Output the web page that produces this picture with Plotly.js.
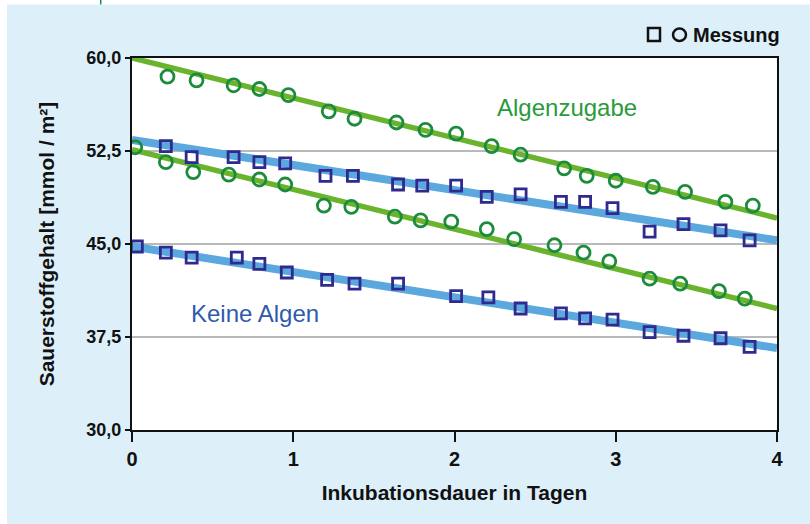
<!DOCTYPE html>
<html>
<head>
<meta charset="utf-8">
<script src="https://cdn.plot.ly/plotly-3.0.1.min.js"></script>
<style>html,body{margin:0;padding:0;background:#fff;}#chart{width:810px;height:524px;}</style>
</head>
<body>
<div id="chart"></div>
<script>
// Measurements: with algae (circles)
const algenObenX = [0.22,0.40,0.63,0.79,0.97,1.22,1.38,1.64,1.82,2.01,2.23,2.41,2.68,2.82,3.00,3.23,3.43,3.68,3.85];
const algenObenY = [58.5,58.2,57.8,57.5,57.0,55.7,55.1,54.8,54.2,53.9,52.9,52.2,51.1,50.5,50.1,49.6,49.2,48.4,48.1];
const algenUntenX = [0.02,0.21,0.38,0.60,0.79,0.95,1.19,1.36,1.63,1.79,1.98,2.20,2.37,2.62,2.80,2.96,3.21,3.40,3.64,3.80];
const algenUntenY = [52.8,51.6,50.8,50.6,50.2,49.8,48.1,48.0,47.2,46.9,46.8,46.2,45.4,44.9,44.3,43.6,42.2,41.8,41.2,40.6];
// Measurements: without algae (squares)
const keineObenX = [0.21,0.37,0.63,0.79,0.95,1.20,1.37,1.65,1.80,2.01,2.20,2.41,2.66,2.81,2.98,3.21,3.42,3.65,3.83];
const keineObenY = [52.9,52.0,52.0,51.6,51.5,50.5,50.5,49.8,49.7,49.7,48.8,49.0,48.4,48.4,47.9,46.0,46.6,46.1,45.3];
const keineUntenX = [0.03,0.21,0.37,0.65,0.79,0.96,1.21,1.38,1.65,2.01,2.21,2.41,2.66,2.81,2.98,3.21,3.42,3.65,3.83];
const keineUntenY = [44.8,44.3,43.9,43.9,43.4,42.7,42.1,41.8,41.8,40.8,40.7,39.8,39.4,39.0,38.9,37.9,37.6,37.4,36.7];
// Regression lines (endpoints)
const fitX = [0, 4];
const fitAlgenOben = [60.0, 47.1];
const fitAlgenUnten = [52.6, 39.8];
const fitKeineOben = [53.4, 45.3];
const fitKeineUnten = [44.8, 36.6];
// Axis ticks
const yTickVals = [30, 37.5, 45, 52.5, 60];
const yTickText = ["30,0", "37,5", "45,0", "52,5", "60,0"];
const xTickVals = [0, 1, 2, 3, 4];

const sans = "'Liberation Sans', Arial, sans-serif";
const greenLine = '#6ab42d';
const blueLine = '#5ba8df';
const greenMark = '#1c8c3c';
const blueMark = '#2f2a8e';

function fit(y, color, w) {
  return {x: fitX, y: y, mode: 'lines', line: {color: color, width: w}, hoverinfo: 'skip', showlegend: false};
}
function pts(x, y, sym, color, size) {
  return {x: x, y: y, mode: 'markers', showlegend: false,
    marker: {symbol: sym, size: size, color: color, line: {color: color, width: 2.8}}};
}

const data = [
  fit(fitKeineOben, blueLine, 8),
  fit(fitKeineUnten, blueLine, 8),
  fit(fitAlgenOben, greenLine, 5.5),
  fit(fitAlgenUnten, greenLine, 5.5),
  pts(keineObenX, keineObenY, 'square-open', blueMark, 11),
  pts(keineUntenX, keineUntenY, 'square-open', blueMark, 11),
  pts(algenObenX, algenObenY, 'circle-open', greenMark, 13),
  pts(algenUntenX, algenUntenY, 'circle-open', greenMark, 13)
];

const layout = {
  width: 810, height: 524,
  margin: {l: 132, r: 33, t: 58, b: 94},
  paper_bgcolor: '#ddeff9',
  plot_bgcolor: '#ffffff',
  showlegend: false,
  xaxis: {
    range: [0, 4], tickvals: xTickVals, showgrid: false, zeroline: false,
    showline: true, linecolor: '#111', linewidth: 2, mirror: true,
    ticks: 'outside', ticklen: 10, tickwidth: 2, tickcolor: '#111',
    tickfont: {family: sans, size: 20, color: '#111', weight: 'bold'},
    title: {text: 'Inkubationsdauer in Tagen', font: {family: sans, size: 21, color: '#111', weight: 'bold'}, standoff: 16}
  },
  yaxis: {
    range: [30, 60], tickvals: yTickVals, ticktext: yTickText,
    showgrid: true, gridcolor: '#b9b9b9', gridwidth: 1.5, zeroline: false,
    showline: true, linecolor: '#111', linewidth: 2, mirror: true,
    ticks: 'outside', ticklen: 5, tickwidth: 2, tickcolor: '#111',
    tickfont: {family: sans, size: 18, color: '#111', weight: 'bold'},
    title: {text: 'Sauerstoffgehalt [mmol / m²]', font: {family: sans, size: 21, color: '#111', weight: 'bold'}, standoff: 26}
  },
  annotations: [
    {text: 'Algenzugabe', xref: 'x', yref: 'y', x: 2.7, y: 56.0, showarrow: false,
     font: {family: sans, size: 24, color: '#2a9a3a'}},
    {text: 'Keine Algen', xref: 'x', yref: 'y', x: 0.763, y: 39.4, showarrow: false,
     font: {family: sans, size: 24, color: '#2f5aab'}},
    {text: 'Messung', xref: 'paper', yref: 'paper', x: 1.0078, y: 1.0618, xanchor: 'right', yanchor: 'middle', showarrow: false,
     font: {family: sans, size: 20, color: '#111', weight: 'bold'}}
  ],
  shapes: [
    {type: 'rect', xref: 'paper', yref: 'paper', x0: -0.21, x1: 1.06, y0: 1.144, y1: 1.16, fillcolor: '#ffffff', line: {width: 0}},
    {type: 'rect', xref: 'paper', yref: 'paper', x0: -0.21, x1: -0.1938, y0: -0.26, y1: 1.16, fillcolor: '#ffffff', line: {width: 0}},
    {type: 'line', xref: 'paper', yref: 'paper', x0: -0.0485, x1: -0.0485, y0: 1.144, y1: 1.16, line: {color: '#1b8a5a', width: 1.5}},
    {type: 'rect', xref: 'paper', yref: 'paper', x0: 0.8, x1: 0.8186, y0: 1.0457, y1: 1.0806, line: {color: '#111', width: 2.5}, fillcolor: 'rgba(0,0,0,0)'},
    {type: 'circle', xref: 'paper', yref: 'paper', x0: 0.8388, x1: 0.8589, y0: 1.0457, y1: 1.0793, line: {color: '#111', width: 2.5}, fillcolor: 'rgba(0,0,0,0)'}
  ]
};

Plotly.newPlot('chart', data, layout, {displayModeBar: false, staticPlot: true});
</script>
</body>
</html>
